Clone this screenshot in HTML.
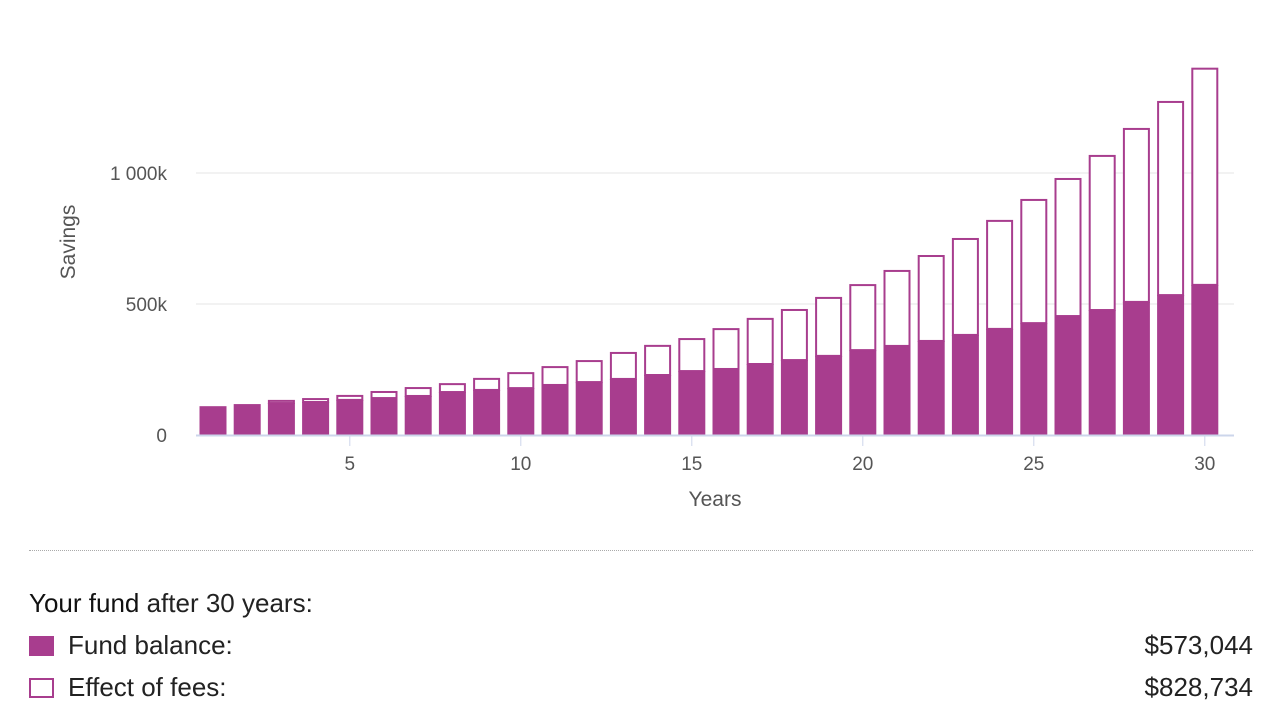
<!DOCTYPE html>
<html><head><meta charset="utf-8"><style>
body{margin:0;background:#fff;width:1280px;height:725px;overflow:hidden;font-family:"Liberation Sans",sans-serif}
svg text{font-family:"Liberation Sans",sans-serif}
.sum{position:absolute;left:29px;width:1224px;font-size:26px;color:#222}
.row{position:absolute;left:29px;width:1224px;font-size:26px;color:#222}
.sw{display:inline-block;width:25px;height:20px;vertical-align:-2px;margin-right:14px;box-sizing:border-box;border:2px solid #a83d8e}
.val{position:absolute;right:0;top:0}
</style></head><body>
<svg id="chart" width="1280" height="540" style="position:absolute;left:0;top:0"></svg>
<div style="position:absolute;left:29px;top:550px;width:1224px;border-top:1px dotted #aaa"></div>
<div class="sum" style="top:588px"><span style="font-weight:500;color:#111">Your fund</span> after 30 years:</div>
<div class="row" style="top:630px"><span class="sw" style="background:#a83d8e"></span>Fund balance:<span class="val">$573,044</span></div>
<div class="row" style="top:672px"><span class="sw"></span>Effect of fees:<span class="val">$828,734</span></div>
<script>
const years=[1,2,3,4,5,6,7,8,9,10,11,12,13,14,15,16,17,18,19,20,21,22,23,24,25,26,27,28,29,30];
const fund=[110,118,122,126,134,141,149,164,172,179,191,202,214,229,244,252,271,286,302,324,340,359,382,405,427,454,477,508,534,573];
const fees=[0,0,12,15,19,27,34,34,46,61,72,84,103,115,126,156,176,195,225,252,290,328,370,416,474,527,592,664,741,829];
const yTicks=[0,500,1000];
const yTickLabels=["0","500k","1 000k"];
const xTicks=[5,10,15,20,25,30];
const svg=document.getElementById('chart');
const NS='http://www.w3.org/2000/svg';
const x=v=>213+(v-1)*34.2;
const y=v=>435-v*131/500;
function mk(t,a){const e=document.createElementNS(NS,t);for(const k in a)e.setAttribute(k,a[k]);svg.appendChild(e);return e;}
yTicks.forEach((t,i)=>{
 if(t>0){const g=mk('line',{x1:196,x2:1234,y1:y(t),y2:y(t),stroke:'#e6e6e6','stroke-width':1});
 
 }
 const l=mk('text',{x:167,y:y(t)+7,'text-anchor':'end','font-size':19,fill:'#555'});
 l.textContent=yTickLabels[i];
 
 
});
years.forEach((yr,i)=>{
 const f=mk('rect',{x:x(yr)-13.5,y:y(fund[i]),width:27,height:y(0)-y(fund[i]),fill:'#a83d8e'});
 
 
 if(fees[i]>0){const tot=fund[i]+fees[i];
 const r=mk('rect',{x:x(yr)-12.5,y:y(tot)+1,width:25,height:y(fund[i])-y(tot)-1,fill:'#fff',stroke:'#a83d8e','stroke-width':2});
 
 }
});
const ax=mk('line',{x1:196,x2:1234,y1:435.5,y2:435.5,stroke:'#ccd6eb','stroke-width':2});


xTicks.forEach(t=>{
 const tk=mk('line',{x1:x(t),x2:x(t),y1:436,y2:446,stroke:'#ccd6eb','stroke-width':1});
 
 
 const l=mk('text',{x:x(t),y:470,'text-anchor':'middle','font-size':19,fill:'#555'});
 l.textContent=t;
 
 
});
const xt=mk('text',{x:715,y:506,'text-anchor':'middle','font-size':21,fill:'#555'});
xt.textContent='Years';


const yt=mk('text',{x:0,y:0,'text-anchor':'middle','font-size':21,fill:'#555',transform:'translate(75,242) rotate(-90)'});
yt.textContent='Savings';


</script>
</body></html>
